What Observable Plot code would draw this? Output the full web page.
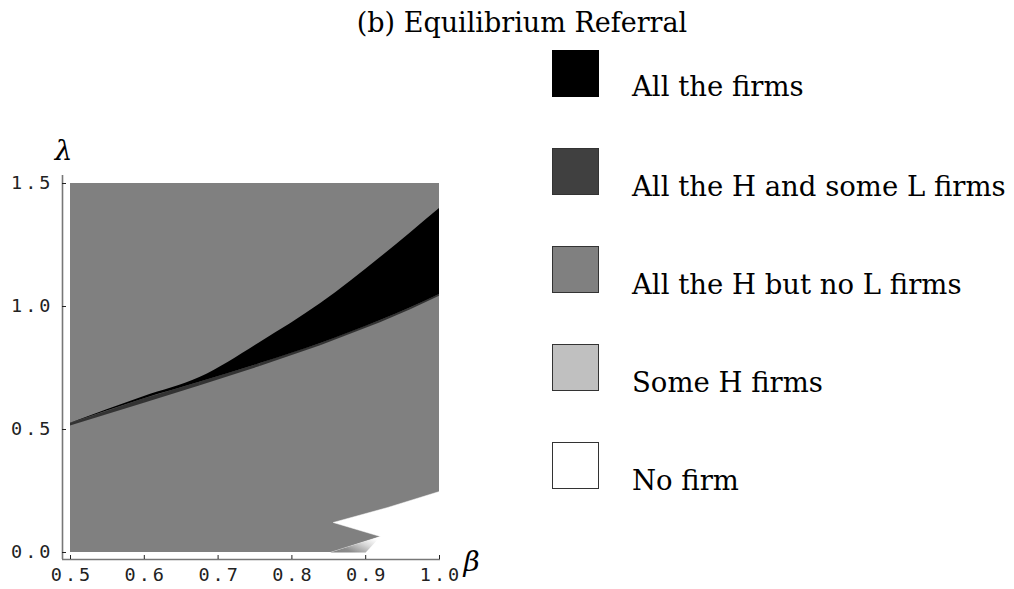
<!DOCTYPE html>
<html>
<head>
<meta charset="utf-8">
<script src="https://cdn.jsdelivr.net/npm/d3@7"></script>
<script src="https://cdn.jsdelivr.net/npm/@observablehq/plot@0.6"></script>
<style>
  html, body { margin: 0; padding: 0; background: #fff; }
  #wrap { position: relative; width: 1014px; height: 589px; overflow: hidden; }
  #chart { position: absolute; left: 0; top: 0; }
  #title { position: absolute; left: 0; width: 1044px; top: 9px; text-align: center;
           font-family: "DejaVu Serif", serif; font-size: 27px; line-height: 27px; color: #000; }
  .sw { position: absolute; left: 552px; width: 47px; height: 47px; box-sizing: border-box; border: 1px solid #333; }
  .lt { position: absolute; left: 632px; font-family: "DejaVu Serif", serif; font-size: 27.5px; line-height: 27px; color: #000; white-space: nowrap; }
</style>
</head>
<body>
<div id="wrap">
  <div id="chart"></div>
  <div id="title"></div>
  <div id="legend"></div>
</div>
<script>
// ---- data ----
const titleText = "(b) Equilibrium Referral";
const betaDomain = [0.5, 1.0];
const lambdaDomain = [0, 1.5];
const xTicks = [0.5, 0.6, 0.7, 0.8, 0.9, 1.0];
const yTicks = [0.0, 0.5, 1.0, 1.5];
const xLabel = "β";
const yLabel = "λ";

// legend
const legendLabels = ["All the firms", "All the H and some L firms", "All the H but no L firms", "Some H firms", "No firm"];
const legendColors = ["#000000", "#404040", "#808080", "#c0c0c0", "#ffffff"];

// black region ("All the firms") boundaries
const bandBeta  = [0.5,   0.599, 0.676, 0.757, 0.839, 0.92,  0.961, 1.0];
const bandUpper = [0.525, 0.633, 0.712, 0.854, 1.012, 1.199, 1.300, 1.398];
const bandLower = [0.524, 0.624, 0.693, 0.768, 0.850, 0.943, 0.995, 1.049];
const bandFade  = [0.514, 0.606, 0.678, 0.756, 0.840, 0.934, 0.987, 1.042];

// white region ("No firm") outline, lower right
const whiteBeta   = [1.0,   0.93,  0.856, 0.92,  0.852, 1.0];
const whiteLambda = [0.248, 0.183, 0.122, 0.065, 0.0,   0.0];

// shaded wedge (transition) outline
const wedgeBeta   = [0.852, 0.92,  0.90];
const wedgeLambda = [0.0,   0.065, 0.0];

// ---- build tables ----
const band = bandBeta.map((b, i) => ({b, up: bandUpper[i], lo: bandLower[i], fade: bandFade[i]}));
const white = whiteBeta.map((b, i) => ({b, l: whiteLambda[i]}));
const wedge = wedgeBeta.map((b, i) => ({b, l: wedgeLambda[i]}));
const domainBox = [{b1: betaDomain[0], b2: betaDomain[1], l1: lambdaDomain[0], l2: lambdaDomain[1]}];
const fmt = d3.format(".1f");
const mono = "DejaVu Sans Mono, monospace";

const plot = Plot.plot({
  width: 1014, height: 589,
  marginLeft: 62, marginTop: 175, marginRight: 574, marginBottom: 30,
  style: {background: "transparent"},
  x: {domain: betaDomain, insetLeft: 8, insetRight: 1, axis: null},
  y: {domain: lambdaDomain, insetTop: 8, insetBottom: 7, axis: null},
  marks: [
    Plot.rect(domainBox, {x1: "b1", x2: "b2", y1: "l1", y2: "l2", fill: "#808080"}),
    Plot.line(white, {x: "b", y: "l", fill: "white", stroke: "white", strokeWidth: 0.5}),
    Plot.line(wedge, {x: "b", y: "l", fill: "url(#wedgeGrad)", stroke: "none"}),
    Plot.areaY(band, {x: "b", y1: "fade", y2: "lo", fill: "black", fillOpacity: 0.6, curve: "monotone-x", ariaLabel: "fade"}),
    Plot.areaY(band, {x: "b", y1: "lo", y2: "up", fill: "black", curve: "monotone-x"}),
    // axis lines (offset from the data region)
    Plot.ruleX([betaDomain[0]], {x: d => d, y1: lambdaDomain[1], y2: lambdaDomain[0], insetTop: -8, insetBottom: -7, dx: -8, stroke: "#777", strokeWidth: 1.6}),
    Plot.ruleY([lambdaDomain[0]], {y: d => d, x1: betaDomain[0], x2: betaDomain[1], insetLeft: -8, insetRight: -1, dy: 7, stroke: "#777", strokeWidth: 1.6}),
    // inward ticks
    Plot.ruleX(xTicks, {x: d => d, y1: lambdaDomain[0], y2: lambdaDomain[0], insetTop: -4, insetBottom: 0, dy: 7, stroke: "#222", strokeWidth: 1}),
    Plot.ruleY(yTicks, {y: d => d, x1: betaDomain[0], x2: betaDomain[0], insetLeft: 0, insetRight: -4, dx: -8, stroke: "#222", strokeWidth: 1}),
    // tick labels
    Plot.text(xTicks, {x: d => d, y: lambdaDomain[0], text: fmt, dy: 23, dx: 1.5, lineAnchor: "middle", textAnchor: "middle", fontFamily: mono, fontSize: 18.5, fill: "#222"}),
    Plot.text(yTicks, {y: d => d, x: betaDomain[0], text: fmt, dx: -17, lineAnchor: "middle", textAnchor: "end", fontFamily: mono, fontSize: 18.5, fill: "#222"}),
    // axis labels
    Plot.text([yLabel], {frameAnchor: "top-left", text: d => d, textAnchor: "middle", lineAnchor: "middle", dx: 1, dy: -24, fontFamily: "DejaVu Serif, serif", fontStyle: "italic", fontSize: 28, fill: "#000"}),
    Plot.text([xLabel], {frameAnchor: "bottom-right", text: d => d, textAnchor: "middle", lineAnchor: "middle", dx: 31, dy: 3, fontFamily: "DejaVu Serif, serif", fontStyle: "italic", fontSize: 28, fill: "#000"})
  ]
});

// gradient / soft-edge definitions
const ns = "http://www.w3.org/2000/svg";
const defs = document.createElementNS(ns, "defs");
defs.innerHTML = `
  <linearGradient id="wedgeGrad" x1="0" y1="1" x2="1" y2="0.3">
    <stop offset="0" stop-color="#808080"/>
    <stop offset="0.3" stop-color="#8c8c8c"/>
    <stop offset="0.7" stop-color="#d8d8d8"/>
    <stop offset="1" stop-color="#ffffff"/>
  </linearGradient>
  <filter id="soft" x="-10%" y="-50%" width="120%" height="200%">
    <feGaussianBlur stdDeviation="1.3"/>
  </filter>`;
plot.insertBefore(defs, plot.firstChild);
const fadeG = plot.querySelector('[aria-label="fade"]');
if (fadeG) fadeG.setAttribute("filter", "url(#soft)");
// wide letter spacing for the tick labels (Courier-like look)
plot.querySelectorAll("text").forEach(t => {
  if (/^[0-9.]+$/.test(t.textContent)) t.setAttribute("letter-spacing", "3");
});

document.getElementById("chart").appendChild(plot);
document.getElementById("title").textContent = titleText;

// legend
const swTops = [50, 148, 246, 344, 442];
const legend = document.getElementById("legend");
legendLabels.forEach((lab, i) => {
  const sw = document.createElement("div");
  sw.className = "sw";
  sw.style.top = swTops[i] + "px";
  sw.style.background = legendColors[i];
  if (i === 0) sw.style.borderColor = "#000";
  legend.appendChild(sw);
  const t = document.createElement("div");
  t.className = "lt";
  t.style.top = (swTops[i] + 47 - 24 + (i === 0 ? 0 : 2)) + "px";
  t.textContent = lab;
  legend.appendChild(t);
});
</script>
</body>
</html>
